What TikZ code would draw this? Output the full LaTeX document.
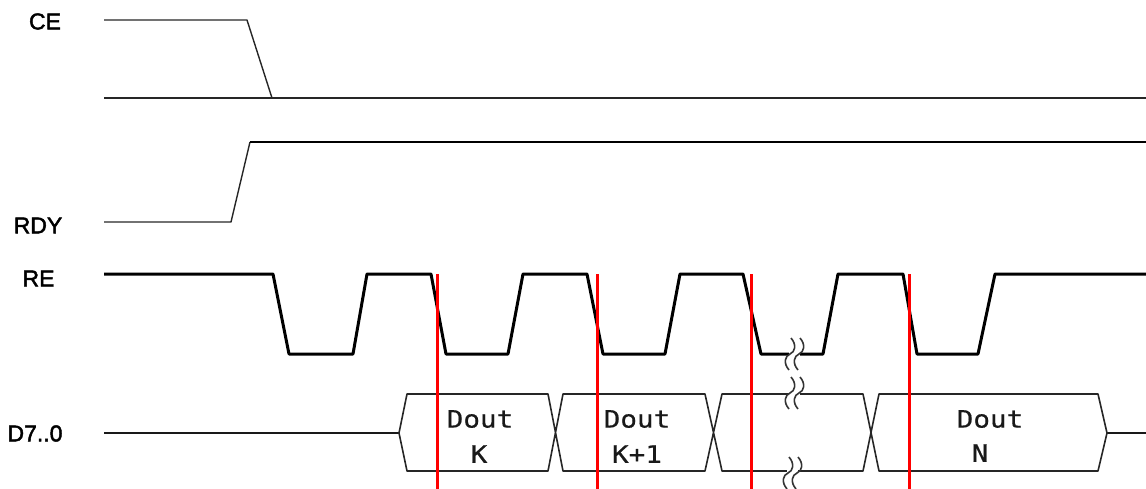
\documentclass[tikz,border=0pt]{standalone}
\usepackage{fontspec}
\setmainfont{Liberation Sans}
\newfontfamily\doutfont[FakeStretch=1.15,FakeBold=0.6]{DejaVu Sans Mono}
\newfontfamily\lblfont[FakeBold=2]{Liberation Sans}
\begin{document}
\begin{tikzpicture}[x=1pt,y=-1pt,
  sig/.style={line width=1.4pt,black!85,line join=round},
  sighi/.style={line width=2.8pt,black,line join=round},
  repath/.style={line width=3pt,black,line join=round},
  bus/.style={line width=1.6pt,black!85,line join=round},
  marker/.style={line width=3pt,red},
  lbl/.style={font=\lblfont\fontsize{23}{23}\selectfont,inner sep=0pt,text=black},
  dout/.style={font=\doutfont\fontsize{24}{24}\selectfont,inner sep=0pt,text=black!90},
  brk/.pic={
    \fill[white] (-1,-12) rectangle (10,12);
    \foreach \d in {0,9}
      \draw[line width=1.6pt,black!80,xshift=\d pt]
        (1,-16) .. controls (7,-9) and (5,-2) .. (0,0)
        .. controls (-5,2) and (-7,9) .. (-1,16);
  }]
\useasboundingbox (0,0) rectangle (1146,489);
% labels
\node[lbl] (ce) at (45,21.5) {CE};
\node[lbl] (rdy) at (38,225.5) {RDY};
\node[lbl] (re) at (38.5,278.5) {RE};
\node[lbl] (d) at (35,433.5) {D7..0};
% CE
\draw[sig] (104,20) -- (247,20) -- (272,98);
\draw[sig] (104,98) -- (1146,98);
% RDY
\draw[sig] (104,222) -- (231,222) -- (250,142);
\draw[sighi] (250,142) -- (1146,142);
% RE
\draw[repath] (104,274) -- (273,274) -- (289,354) -- (353,354) -- (367,274)
  -- (431,274) -- (446,354) -- (508,354) -- (523,274)
  -- (587,274) -- (603,354) -- (665,354) -- (680,274)
  -- (743,274) -- (761,354) -- (823,354) -- (838,274)
  -- (903,274) -- (917,354) -- (978,354) -- (995,274) -- (1146,274);
% D7..0
\draw[line width=2.4pt,black!90] (104,433) -- (399,433);
\draw[line width=2.4pt,black!90] (1107,433) -- (1146,433);
\draw[bus] (399,433) -- (407,394) -- (548,394) -- (563,471) -- (705,471) -- (722,394)
  -- (863,394) -- (879,471) -- (1098,471) -- (1107,433) -- (1098,394) -- (879,394)
  -- (863,471) -- (722,471) -- (705,394) -- (563,394) -- (548,471) -- (407,471) -- cycle;
% breaks
\pic at (790,354) {brk};
\pic at (790,393) {brk};
\pic at (788,473) {brk};
% data labels
\node[dout] (dk) at (480,419) {Dout};
\node[dout] (k) at (479,454) {K};
\node[dout] (dk1) at (637,419) {Dout};
\node[dout] (k1) at (637,454) {K+1};
\node[dout] (dn) at (990,419) {Dout};
\node[dout] (n) at (980,453) {N};
% red markers
\draw[marker] (437,274) -- (437,489);
\draw[marker] (597,274) -- (597,489);
\draw[marker] (751,274) -- (751,489);
\draw[marker] (909,274) -- (909,489);
\end{tikzpicture}
\end{document}
